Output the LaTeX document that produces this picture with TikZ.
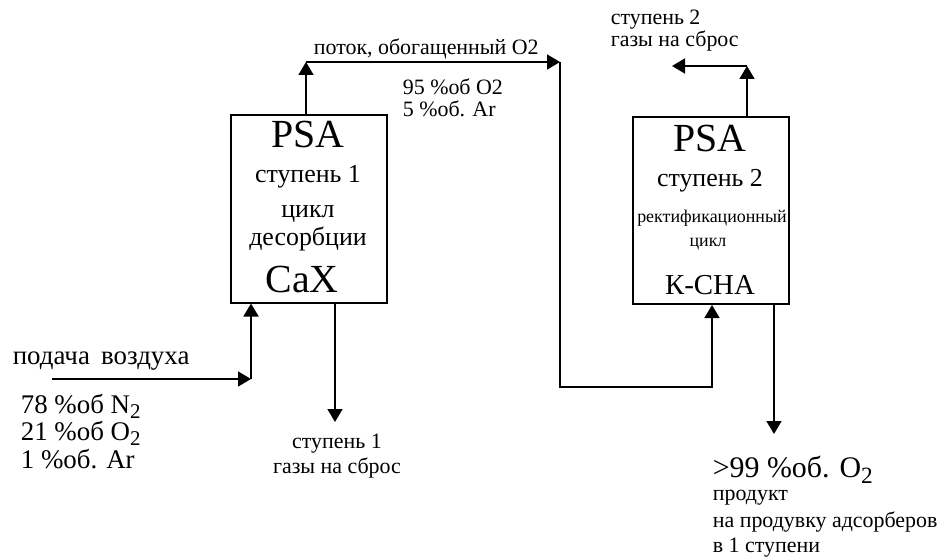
\documentclass[tikz,border=0pt]{standalone}
\usepackage{fontspec}
\usepackage{graphicx}
\setmainfont{Liberation Serif}
\usetikzlibrary{arrows.meta,positioning,calc}
\newcommand{\lowsub}[1]{\raisebox{-0.22em}{\scalebox{0.78}{#1}}}

\begin{document}
\begin{tikzpicture}[x=1bp, y=-1bp, >={Triangle[length=13bp, width=15bp]}, line width=1.7bp,
    unit/.style={draw, line width=2bp, minimum width=156bp, minimum height=187bp, inner sep=0pt},
    psafont/.style={inner sep=0pt, font=\fontsize{40}{40}\selectfont},
    midfont/.style={inner sep=0pt, font=\fontsize{26}{26}\selectfont},
    notefont/.style={inner sep=0pt, font=\fontsize{22}{22}\selectfont}]
    \useasboundingbox (0,0) rectangle (952,559);

    % PSA units
    \node[unit] (psa1) at (309, 209) {};
    \node[unit] (psa2) at (710.5, 210.5) {};

    \node[psafont, anchor=base] (psa1a) at (308, 148) {PSA};
    \node[midfont, anchor=base] (psa1b) at (308, 183) {ступень 1};
    \node[midfont, anchor=base] (psa1c) at (308, 218) {цикл};
    \node[midfont, anchor=base] (psa1d) at (308, 246) {десорбции};
    \node[psafont, anchor=base] (psa1e) at (302, 293) {CaX};

    \node[psafont, anchor=base] (psa2a) at (710, 152) {PSA};
    \node[midfont, anchor=base] (psa2b) at (710, 187) {ступень 2};
    \node[inner sep=0pt, font=\fontsize{18}{18}\selectfont, anchor=base] (psa2c) at (712, 223) {ректификационный};
    \node[inner sep=0pt, font=\fontsize{18}{18}\selectfont, anchor=base] (psa2d) at (708, 247) {цикл};
    \node[inner sep=0pt, font=\fontsize{29}{29}\selectfont, anchor=base] (psa2e) at (710, 295) {К-СНА};

    % Feed air
    \node[inner sep=0pt, font=\fontsize{27}{27}\selectfont, anchor=base west] (air) at (12, 365) {подача\, воздуха};
    \node[inner sep=0pt, font=\fontsize{27}{27}\selectfont, anchor=base west] (air1) at (20, 413) {78 \%об N\lowsub{2}};
    \node[inner sep=0pt, font=\fontsize{27}{27}\selectfont, anchor=base west] (air2) at (20, 440) {21 \%об O\lowsub{2}};
    \node[inner sep=0pt, font=\fontsize{27}{27}\selectfont, anchor=base west] (air3) at (20, 468) {1 \%об. Ar};

    % Stream labels
    \node[notefont, anchor=base west] (rich) at (313, 55) {поток, обогащенный O2};
    \node[notefont, anchor=base west] (rich1) at (402, 95) {95 \%об O2};
    \node[notefont, anchor=base west] (rich2) at (402, 117) {5 \%об. Ar};
    \node[notefont, anchor=base] (off1a) at (337, 448) {ступень 1};
    \node[notefont, anchor=base] (off1b) at (337, 473) {газы на сброс};
    \node[notefont, anchor=base west] (off2a) at (610, 25) {ступень 2};
    \node[notefont, anchor=base west] (off2b) at (610, 47) {газы на сброс};
    \node[inner sep=0pt, font=\fontsize{30}{30}\selectfont, anchor=base west] (prod1) at (712, 477) {>99 \%об. O\lowsub{2}};
    \node[notefont, anchor=base west] (prod2) at (712, 500) {продукт};
    \node[notefont, anchor=base west] (prod3) at (712, 527) {на продувку адсорберов};
    \node[notefont, anchor=base west] (prod4) at (712, 552) {в 1 ступени};

    % Bends and free ends
    \coordinate (airin) at (52, 379);
    \coordinate (airturn) at (251, 379);
    \coordinate (richup) at (306, 62);
    \coordinate (richturn) at (560, 62);
    \coordinate (richlow) at (560, 387);
    \coordinate (richin) at (712, 387);
    \coordinate (off1) at (335, 422);
    \coordinate (off2turn) at (747, 66);
    \coordinate (off2) at (672, 66);
    \coordinate (prod) at (774, 434);

    % Connectors
    \draw[->] (airin) -- (airturn);
    \draw[->] (airturn) -- (airturn |- psa1.south);
    \draw[->] (richup |- psa1.north) -- (richup);
    \draw[->] (richup) -- (richturn);
    \draw[->] (richturn) -- (richlow) -- (richin) -- (richin |- psa2.south);
    \draw[->] (off1 |- psa1.south) -- (off1);
    \draw[->] (off2turn |- psa2.north) -- (off2turn);
    \draw[->] (off2turn) -- (off2);
    \draw[->] (prod |- psa2.south) -- (prod);
\end{tikzpicture}
\end{document}
